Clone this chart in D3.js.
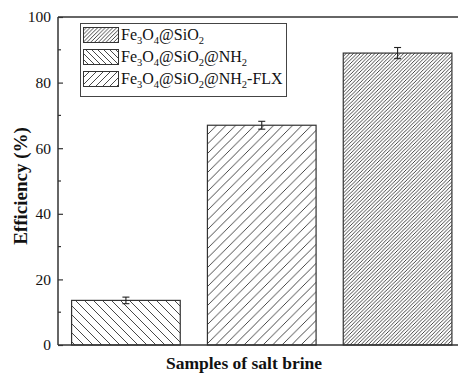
<!DOCTYPE html>
<html>
<head>
<meta charset="utf-8">
<script src="https://cdn.jsdelivr.net/npm/d3@7"></script>
<style>
  html, body { margin: 0; padding: 0; background: #fff; }
  svg { display: block; }
</style>
</head>
<body>
<svg id="chart" width="458" height="373"></svg>
<script>
// Series shown in the legend (label segments: [text, isSubscript])
const seriesNames = [
  [["Fe", 0], ["3", 1], ["O", 0], ["4", 1], ["@SiO", 0], ["2", 1]],
  [["Fe", 0], ["3", 1], ["O", 0], ["4", 1], ["@SiO", 0], ["2", 1], ["@NH", 0], ["2", 1]],
  [["Fe", 0], ["3", 1], ["O", 0], ["4", 1], ["@SiO", 0], ["2", 1], ["@NH", 0], ["2", 1], ["-FLX", 0]]
];
const seriesHatch = ["dense", "back", "fwd"];

// Bars, left to right: which series each bar belongs to, value and error
const barSeries = [1, 2, 0];
const barValues = [13.6, 67.0, 89.0];
const barErrors = [1.0, 1.2, 1.7];

const yTicks = [0, 20, 40, 60, 80, 100];
const yMinorTicks = [10, 30, 50, 70, 90];

const serif = '"Times New Roman", "Liberation Serif", "DejaVu Serif", serif';
const svg = d3.select("#chart").attr("font-family", serif);
const ink = "#222";

// Hatch patterns
const defs = svg.append("defs");
function hatch(id, s, dir) {
  const p = defs.append("pattern").attr("id", id)
    .attr("patternUnits", "userSpaceOnUse").attr("width", s).attr("height", s);
  p.append("rect").attr("width", s).attr("height", s).attr("fill", "#fff");
  const d = dir === "fwd"
    ? `M0,${s} L${s},0 M${-s/2},${s/2} L${s/2},${-s/2} M${s/2},${s*1.5} L${s*1.5},${s/2}`
    : `M0,0 L${s},${s} M${-s/2},${s/2} L${s/2},${s*1.5} M${s/2},${-s/2} L${s*1.5},${s/2}`;
  p.append("path").attr("d", d).attr("stroke", "#333").attr("stroke-width", 0.9).attr("fill", "none");
}
hatch("dense", 3.6, "fwd");
hatch("back", 9, "back");
hatch("fwd", 9.5, "fwd");
hatch("dense-l", 3.8, "fwd");
hatch("back-l", 6, "back");
hatch("fwd-l", 7, "fwd");

const x = d3.scaleBand().domain(d3.range(barValues.length))
  .range([58, 465.5]).paddingInner(0.2).paddingOuter(0.1);
const y = d3.scaleLinear().domain([0, 100]).range([345, 17]);

// Bars
svg.append("g").selectAll("rect").data(barValues).join("rect")
  .attr("x", (d, i) => x(i))
  .attr("y", d => y(d))
  .attr("width", x.bandwidth())
  .attr("height", d => y(0) - y(d))
  .attr("fill", (d, i) => `url(#${seriesHatch[barSeries[i]]})`)
  .attr("stroke", "#333").attr("stroke-width", 1.2);

// Error bars
const eb = svg.append("g").attr("stroke", ink).attr("stroke-width", 1.1);
barValues.forEach((v, i) => {
  const cx = x(i) + x.bandwidth() / 2;
  const e = barErrors[i];
  eb.append("line").attr("x1", cx).attr("x2", cx).attr("y1", y(v + e)).attr("y2", y(v - e));
  eb.append("line").attr("x1", cx - 3.5).attr("x2", cx + 3.5).attr("y1", y(v + e)).attr("y2", y(v + e));
  eb.append("line").attr("x1", cx - 3.5).attr("x2", cx + 3.5).attr("y1", y(v - e)).attr("y2", y(v - e));
});

// Frame: left, bottom, top
const frame = svg.append("g").attr("stroke", "#333").attr("stroke-width", 1.5);
frame.append("line").attr("x1", 58).attr("x2", 58).attr("y1", y(100)).attr("y2", y(0));
frame.append("line").attr("x1", 58).attr("x2", 458).attr("y1", y(0)).attr("y2", y(0));
frame.append("line").attr("x1", 58).attr("x2", 458).attr("y1", y(100)).attr("y2", y(100));

// Y axis with inward ticks
const yAxis = svg.append("g").attr("transform", "translate(58,0)")
  .call(d3.axisLeft(y).tickValues(yTicks).tickSizeInner(-5).tickSizeOuter(0).tickPadding(7));
yAxis.attr("font-family", serif).attr("font-size", 15.5);
yAxis.select(".domain").remove();
yAxis.selectAll(".tick line").attr("stroke", "#333").attr("stroke-width", 1.2);
yAxis.selectAll(".tick text").attr("fill", "#111");
svg.append("g").selectAll("line").data(yMinorTicks).join("line")
  .attr("x1", 58).attr("x2", 61).attr("y1", d => y(d)).attr("y2", d => y(d))
  .attr("stroke", "#333").attr("stroke-width", 1.2);

// Axis titles
svg.append("text").attr("transform", "translate(27,186) rotate(-90)")
  .attr("text-anchor", "middle").attr("font-size", 19).attr("font-weight", "bold").attr("fill", "#111")
  .text("Efficiency (%)");
svg.append("text").attr("x", 244).attr("y", 369)
  .attr("text-anchor", "middle").attr("font-size", 17.5).attr("font-weight", "bold").attr("fill", "#111")
  .text("Samples of salt brine");

// Legend
const lg = svg.append("g");
lg.append("rect").attr("x", 80.5).attr("y", 23.5).attr("width", 206).attr("height", 73)
  .attr("fill", "#fff").attr("stroke", "#444").attr("stroke-width", 1);
seriesNames.forEach((segs, i) => {
  const ty = 27.5 + i * 22;
  lg.append("rect").attr("x", 83.5).attr("y", ty).attr("width", 35).attr("height", 15)
    .attr("fill", `url(#${seriesHatch[i]}-l)`).attr("stroke", "#333").attr("stroke-width", 1);
  const t = lg.append("text").attr("x", 121).attr("y", ty + 12.5)
    .attr("font-size", 16).attr("fill", "#111");
  segs.forEach(([s, sub]) => {
    const ts = t.append("tspan").text(s).attr("font-size", sub ? 10.5 : 16);
    if (sub) ts.attr("y", ty + 16); else ts.attr("y", ty + 12.5);
  });
});
</script>
</body>
</html>
